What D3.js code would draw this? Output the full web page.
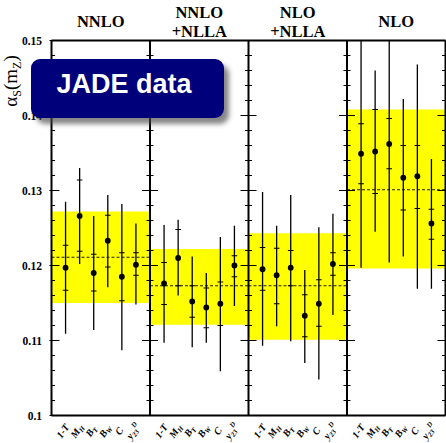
<!DOCTYPE html>
<html>
<head>
<meta charset="utf-8">
<script src="https://cdn.jsdelivr.net/npm/d3@7"></script>
<style>
body { margin: 0; background: #fff; }
text { font-family: "Liberation Serif", "Times New Roman", serif; }
</style>
</head>
<body>
<svg width="446" height="443"></svg>
<script>
// observables along each panel
var obsBase = ["1-T", "M", "B", "B", "C", "y"]
var obsSub  = ["", "H", "T", "W", "", "23"]
var obsSup  = ["", "", "", "", "", "D"]
var observables = ["1-T", "M_H", "B_T", "B_W", "C", "y23D"]

var orders = ["NNLO", "NNLO+NLLA", "NLO+NLLA", "NLO"]
var headerTop = ["", "NNLO", "NLO", ""]
var headerMain = ["NNLO", "+NLLA", "+NLLA", "NLO"]
var yTicks = [0.1, 0.11, 0.12, 0.13, 0.14, 0.15]

// combined result per order: band and mean
var bandLo   = [0.1150, 0.1121, 0.1101, 0.1196]
var bandHi   = [0.1272, 0.1222, 0.1243, 0.1408]
var bandMean = [0.1211, 0.1173, 0.1173, 0.1301]

// NNLO
var nnloVal   = [0.1197, 0.1266, 0.1190, 0.1233, 0.1185, 0.1201]
var nnloInHi  = [0.1227, 0.1314, 0.1215, 0.1267, 0.1217, 0.1217]
var nnloInLo  = [0.1167, 0.1219, 0.1166, 0.1198, 0.1153, 0.1187]
var nnloOutHi = [0.1285, 0.1330, 0.1266, 0.1294, 0.1282, 0.1256]
var nnloOutLo = [0.1109, 0.1202, 0.1114, 0.1171, 0.1087, 0.1148]

// NNLO+NLLA
var nnllaVal   = [0.1176, 0.1210, 0.1152, 0.1144, 0.1149, 0.1200]
var nnllaInHi  = [0.1204, 0.1248, 0.1173, 0.1170, 0.1178, 0.1213]
var nnllaInLo  = [0.1148, 0.1173, 0.1131, 0.1117, 0.1120, 0.1185]
var nnllaOutHi = [0.1254, 0.1261, 0.1212, 0.1190, 0.1238, 0.1253]
var nnllaOutLo = [0.1097, 0.1160, 0.1091, 0.1097, 0.1059, 0.1146]

// NLO+NLLA
var nllaVal   = [0.1195, 0.1187, 0.1197, 0.1133, 0.1149, 0.1202]
var nllaInHi  = [0.1224, 0.1223, 0.1220, 0.1161, 0.1181, 0.1217]
var nllaInLo  = [0.1167, 0.1149, 0.1173, 0.1105, 0.1119, 0.1187]
var nllaOutHi = [0.1298, 0.1253, 0.1294, 0.1194, 0.1251, 0.1269]
var nllaOutLo = [0.1093, 0.1119, 0.1099, 0.1070, 0.1048, 0.1134]

// NLO
var nloVal   = [0.1349, 0.1352, 0.1362, 0.1317, 0.1319, 0.1256]
var nloInHi  = [0.1389, 0.1408, 0.1396, 0.1360, 0.1360, 0.1275]
var nloInLo  = [0.1309, 0.1296, 0.1329, 0.1274, 0.1276, 0.1235]
var nloOutHi = [0.1550, 0.1460, 0.1550, 0.1422, 0.1468, 0.1342]
var nloOutLo = [0.1197, 0.1245, 0.1204, 0.1212, 0.1169, 0.1169]

var series = [
  [nnloVal, nnloInHi, nnloInLo, nnloOutHi, nnloOutLo],
  [nnllaVal, nnllaInHi, nnllaInLo, nnllaOutHi, nnllaOutLo],
  [nllaVal, nllaInHi, nllaInLo, nllaOutHi, nllaOutLo],
  [nloVal, nloInHi, nloInLo, nloOutHi, nloOutLo]
]

var svg = d3.select("svg")

var x = d3.scaleBand().domain(orders).range([51.5, 445.5]).padding(0)
var xIn = d3.scalePoint().domain(observables).range([0, x.bandwidth()]).padding(1)
var y = d3.scaleLinear().domain([0.1, 0.15]).range([415.5, 40.5])

svg.append("defs").append("clipPath").attr("id", "plot")
  .append("rect")
  .attr("x", x.range()[0]).attr("y", y(0.15))
  .attr("width", x.range()[1] - x.range()[0]).attr("height", y(0.1) - y(0.15))

var plot = svg.append("g").attr("clip-path", "url(#plot)")

// yellow bands
plot.selectAll("rect.band")
  .data(orders)
  .enter().append("rect")
  .attr("class", "band")
  .attr("x", d => x(d))
  .attr("width", x.bandwidth())
  .attr("y", (d, i) => y(bandHi[i]))
  .attr("height", (d, i) => y(bandLo[i]) - y(bandHi[i]))
  .style("fill", "#ffff00")

// mean lines
plot.selectAll("line.mean")
  .data(orders)
  .enter().append("line")
  .attr("x1", d => x(d))
  .attr("x2", d => x(d) + x.bandwidth())
  .attr("y1", (d, i) => y(bandMean[i]))
  .attr("y2", (d, i) => y(bandMean[i]))
  .style("stroke", "#222")
  .style("stroke-width", 1.2)
  .style("stroke-dasharray", "3,2")

// points with error bars
orders.forEach((ord, k) => {
  var s = series[k]
  var g = plot.append("g").attr("transform", "translate(" + x(ord) + ",0)")
  var pts = observables.map((o, i) => ({o: o, v: s[0][i], ih: s[1][i], il: s[2][i], oh: s[3][i], ol: s[4][i]}))

  g.selectAll("line.outer").data(pts).enter().append("line")
    .attr("x1", d => xIn(d.o)).attr("x2", d => xIn(d.o))
    .attr("y1", d => y(d.oh)).attr("y2", d => y(d.ol))
    .style("stroke", "#000").style("stroke-width", 1.3)

  g.selectAll("line.capHi").data(pts).enter().append("line")
    .attr("x1", d => xIn(d.o) - 2.8).attr("x2", d => xIn(d.o) + 2.8)
    .attr("y1", d => y(d.ih)).attr("y2", d => y(d.ih))
    .style("stroke", "#000").style("stroke-width", 1.2)

  g.selectAll("line.capLo").data(pts).enter().append("line")
    .attr("x1", d => xIn(d.o) - 2.8).attr("x2", d => xIn(d.o) + 2.8)
    .attr("y1", d => y(d.il)).attr("y2", d => y(d.il))
    .style("stroke", "#000").style("stroke-width", 1.2)

  g.selectAll("circle").data(pts).enter().append("circle")
    .attr("cx", d => xIn(d.o)).attr("cy", d => y(d.v))
    .attr("r", 2.9).style("fill", "#000")
})

// frame and ticks
var edges = orders.map(d => x(d)).concat([x.range()[1]])
var minor = d3.range(0.1, 0.1501, 0.002)
var isMajor = d => Math.abs(d * 100 - Math.round(d * 100)) < 1e-6
var axes = svg.append("g")

edges.forEach((ex, j) => {
  var left = j > 0, right = j < edges.length - 1
  axes.selectAll(null).data(minor).enter().append("line")
    .attr("x1", d => ex - (left ? (isMajor(d) ? 8 : 3.5) : (isMajor(d) ? 2 : 0)))
    .attr("x2", d => ex + (right ? (isMajor(d) ? 8 : 3.5) : 0))
    .attr("y1", d => y(d)).attr("y2", d => y(d))
    .style("stroke", "#000").style("stroke-width", 1)
  axes.append("line")
    .attr("x1", ex).attr("x2", ex)
    .attr("y1", y(0.15)).attr("y2", y(0.1))
    .style("stroke", "#000").style("stroke-width", 2)
})

axes.append("line")
  .attr("x1", edges[0]).attr("x2", edges[edges.length - 1])
  .attr("y1", y(0.15)).attr("y2", y(0.15))
  .style("stroke", "#000").style("stroke-width", 2)
axes.append("line")
  .attr("x1", edges[0]).attr("x2", edges[edges.length - 1])
  .attr("y1", y(0.1)).attr("y2", y(0.1))
  .style("stroke", "#000").style("stroke-width", 2)

// y tick labels
svg.selectAll("text.ytick")
  .data(yTicks)
  .enter().append("text")
  .attr("x", 42)
  .attr("y", d => y(d) + 4)
  .attr("text-anchor", "end")
  .style("font-size", "11.5px")
  .style("font-weight", "bold")
  .text(d => d3.format("")(d))

// y axis title
var yt = svg.append("text")
  .attr("transform", "translate(17,81) rotate(-90)")
  .attr("text-anchor", "middle")
  .style("font-size", "19px")
yt.append("tspan").text("\u03b1")
yt.append("tspan").attr("dy", 4).style("font-size", "12px").text("S")
yt.append("tspan").attr("dy", -4).text("(m")
yt.append("tspan").attr("dy", 4).style("font-size", "12px").text("Z")
yt.append("tspan").attr("dy", -4).text(")")

// panel headers
svg.selectAll("text.htop")
  .data(orders)
  .enter().append("text")
  .attr("x", d => x(d) + x.bandwidth() / 2)
  .attr("y", 18.3)
  .attr("text-anchor", "middle")
  .style("font-size", "16.5px").style("font-weight", "bold")
  .text((d, i) => headerTop[i])

svg.selectAll("text.hmain")
  .data(orders)
  .enter().append("text")
  .attr("x", d => x(d) + x.bandwidth() / 2)
  .attr("y", (d, i) => headerTop[i] ? 36.7 : 27.3)
  .attr("text-anchor", "middle")
  .style("font-size", "16.5px").style("font-weight", "bold")
  .text((d, i) => headerMain[i])

// x labels
orders.forEach(ord => {
  observables.forEach((o, i) => {
    var t = svg.append("text")
      .attr("transform", "translate(" + (x(ord) + xIn(o)) + ",433) rotate(-55)")
      .attr("text-anchor", "middle")
      .style("font-size", "10px").style("font-weight", "bold").style("font-style", "italic")
    t.append("tspan").text(obsBase[i])
    if (obsSub[i]) t.append("tspan").attr("dy", 2).style("font-size", "7px").text(obsSub[i])
    if (obsSup[i]) t.append("tspan").attr("dy", -6).style("font-size", "7px").text(obsSup[i])
  })
})

// JADE data box
var filt = svg.select("defs").append("filter").attr("id", "shadow")
  .attr("x", "-10%").attr("y", "-10%").attr("width", "130%").attr("height", "140%")
filt.append("feDropShadow").attr("dx", 5).attr("dy", 6).attr("stdDeviation", 2.5)
  .attr("flood-color", "#444").attr("flood-opacity", 0.65)

svg.append("rect")
  .attr("x", 31).attr("y", 59).attr("width", 193).attr("height", 59)
  .attr("rx", 9)
  .style("fill", "#00007a")
  .attr("filter", "url(#shadow)")

svg.append("text")
  .attr("x", 124).attr("y", 93)
  .attr("text-anchor", "middle")
  .style("font-family", "'Liberation Sans', Arial, sans-serif")
  .style("font-size", "27px").style("font-weight", "bold")
  .style("fill", "#fff")
  .text("JADE data")
</script>
</body>
</html>
